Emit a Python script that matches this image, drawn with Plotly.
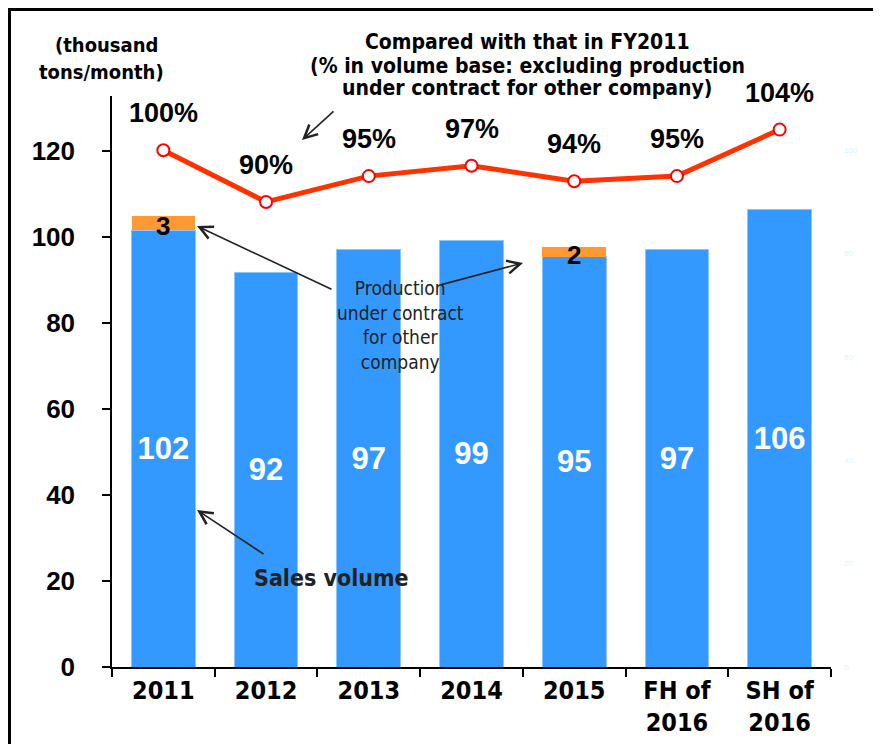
import plotly.graph_objects as go

categories = ["2011", "2012", "2013", "2014", "2015", "FH of<br>2016", "SH of<br>2016"]
sales_volume = [101.6, 91.8, 97.0, 99.3, 95.4, 97.0, 106.3]
contract_volume = [3.3, 0, 0, 0, 2.3, 0, 0]
ratio_vs_2011 = [100, 90, 95, 97, 94, 95, 104]
left_ticks = [0, 20, 40, 60, 80, 100, 120]
right_ticks = [0, 20, 40, 60, 80, 100]

# page body margin offsets the figure by 8px in the screenshot
OFF = 8
W, H = 881 - OFF, 744 - OFF
L, R, T, B = 112, 831, 96, 667  # plot area in screenshot pixels


def px(x):
    return (x - L) / (R - L)


def py(y):
    return (B - y) / (B - T)


NARROW = "Liberation Sans Narrow, DejaVu Sans Condensed, Arial Narrow, sans-serif"
ARIAL = "Liberation Sans, Arial, sans-serif"

fig = go.Figure()

fig.add_trace(go.Bar(
    x=categories, y=sales_volume, name="Sales volume",
    marker=dict(color="#3399FF", line=dict(color="#8CC6FF", width=1)),
    text=[f"{v:.0f}" for v in sales_volume],
    textposition="inside", insidetextanchor="middle", textangle=0,
    constraintext="none",
    textfont=dict(family=ARIAL, size=31, color="white", weight="bold"),
))
fig.add_trace(go.Bar(
    x=categories, y=contract_volume, name="Production under contract",
    marker=dict(color="#FF9933", line=dict(width=0)),
))
fig.add_trace(go.Scatter(
    x=categories, y=ratio_vs_2011, yaxis="y2", mode="lines+markers",
    line=dict(color="#FF3300", width=5),
    marker=dict(size=12, color="white", line=dict(color="#FF0000", width=2)),
    cliponaxis=False,
))

annotations = []
# ratio labels (x given as category index)
for i, r in enumerate(ratio_vs_2011):
    annotations.append(dict(x=i, y=r, xref="x", yref="y2", text=f"<b>{r}%</b>",
                            showarrow=False, yshift=37,
                            font=dict(family=ARIAL, size=27, color="black")))
# contract labels
for i, (s, v) in enumerate(zip(sales_volume, contract_volume)):
    if v > 0:
        annotations.append(dict(x=i, y=s + v / 2, xref="x", yref="y", text=f"<b>{v:.0f}</b>",
                                showarrow=False, yshift=-3,
                                font=dict(family=ARIAL, size=26, color="black")))


def txt(x, y, s, size, color="black", bold=True):
    annotations.append(dict(x=px(x), y=py(y), xref="paper", yref="paper",
                            text=f"<b>{s}</b>" if bold else s,
                            showarrow=False, xanchor="center", yanchor="middle",
                            font=dict(family=NARROW, size=size, color=color)))


def arrow(hx, hy, tx, ty):
    annotations.append(dict(x=px(hx), y=py(hy), xref="paper", yref="paper", text="",
                            showarrow=True, ax=tx - hx, ay=ty - hy,
                            arrowhead=5, arrowsize=1.6, arrowwidth=1.6, arrowcolor="#222222"))


txt(106, 45, "(thousand", 20)
txt(101, 72, "tons/month)", 20)
txt(527, 42, "Compared with that in FY2011", 21)
txt(527, 66, "(% in volume base: excluding production", 21)
txt(527, 88, "under contract for other company)", 21)
txt(400, 325, "Production<br>under contract<br>for other<br>company", 19, "#222222", bold=False)
txt(331, 578, "Sales volume", 23, "#222222")

arrow(197, 226, 333, 290)
arrow(523, 263, 440, 285)
arrow(197, 510, 265, 555)
arrow(302, 140, 335, 110)

shapes = [
    dict(type="line", xref="paper", yref="paper", x0=px(9.5), x1=px(9.5), y0=py(770), y1=py(8),
         line=dict(color="black", width=3)),
    dict(type="line", xref="paper", yref="paper", x0=px(8), x1=px(900), y0=py(9.5), y1=py(9.5),
         line=dict(color="black", width=3)),
]

fig.update_layout(
    width=W, height=H,
    margin=dict(l=L - OFF, r=W - (R - OFF), t=T - OFF, b=H - (B - OFF), pad=0, autoexpand=False),
    paper_bgcolor="white", plot_bgcolor="white",
    barmode="stack", bargap=0.38,
    showlegend=False,
    annotations=annotations,
    shapes=shapes,
    xaxis=dict(
        type="category", range=[-0.5, len(categories) - 0.5], autorange=False,
        automargin=False,
        showline=True, linecolor="black", linewidth=1.5,
        ticks="outside", tickson="boundaries", ticklen=8, tickwidth=1.5, tickcolor="black",
        showgrid=False, tickangle=0,
        tickfont=dict(family=NARROW, size=25, color="black", weight="bold"),
    ),
    yaxis=dict(
        range=[0, 132.8], autorange=False, automargin=False, tickvals=left_ticks,
        showline=True, linecolor="black", linewidth=1.5,
        ticks="outside", ticklen=8, tickwidth=1.5, tickcolor="black",
        showgrid=False, zeroline=False, ticklabelstandoff=22,
        tickfont=dict(family=ARIAL, size=26, color="black", weight="bold"),
    ),
    yaxis2=dict(
        overlaying="y", side="right", range=[0, 110.5], autorange=False, automargin=False,
        tickvals=right_ticks,
        ticksuffix="%", showgrid=False, zeroline=False, showline=False,
        ticklabelstandoff=12,
        tickfont=dict(family=ARIAL, size=8, color="#D6F6FF"),
    ),
)

fig.write_html("out.html")
